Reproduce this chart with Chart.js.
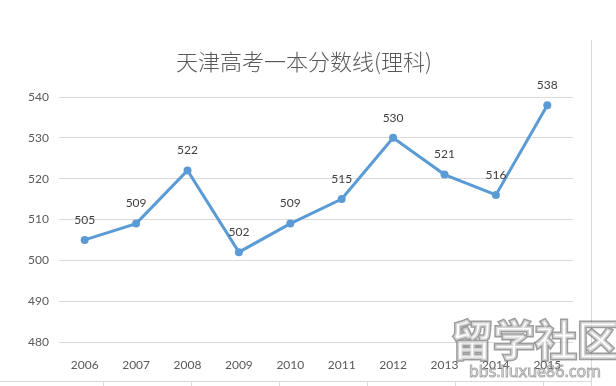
<!DOCTYPE html>
<html>
<head>
<meta charset="utf-8">
<script src="https://cdn.jsdelivr.net/npm/chart.js@4/dist/chart.umd.min.js"></script>
<style>
  html, body { margin: 0; padding: 0; background: #fff; }
  #wrap { width: 616px; height: 386px; }
</style>
</head>
<body>
<div id="wrap"><canvas id="chart" width="616" height="386"></canvas></div>
<script>
// data
const years = ['2006', '2007', '2008', '2009', '2010', '2011', '2012', '2013', '2014', '2015'];
const scores = [505, 509, 522, 502, 509, 515, 530, 521, 516, 538];
const yTicks = [480, 490, 500, 510, 520, 530, 540];

const titleText = '天津高考一本分数线(理科)';
const lineColor = '#5B9BD5';
const textColor = '#595959';

// title is not centred on the canvas in the original, so draw it here
const titlePlugin = {
    id: 'titlePlugin',
    afterDraw(chart) {
        const ctx = chart.ctx;
        ctx.save();
        ctx.font = '300 22px "Noto Sans CJK SC", sans-serif';
        ctx.fillStyle = textColor;
        ctx.textAlign = 'center';
        ctx.textBaseline = 'middle';
        ctx.fillText(titleText, 304, 62);
        ctx.restore();
    }
};

// numbers over each point
const pointLabels = {
    id: 'pointLabels',
    afterDatasetsDraw(chart) {
        const ctx = chart.ctx;
        const meta = chart.getDatasetMeta(0);
        ctx.save();
        ctx.font = '12px Lato, "Noto Sans", sans-serif';
        ctx.fillStyle = '#404040';
        ctx.textAlign = 'center';
        ctx.textBaseline = 'middle';
        meta.data.forEach((pt, i) => {
            ctx.fillText(String(scores[i]), pt.x, pt.y - 20);
        });
        ctx.restore();
    }
};

// frame line on the right + the stray axis at the bottom + watermark
const decor = {
    id: 'decor',
    afterDraw(chart) {
        const ctx = chart.ctx;
        ctx.save();
        ctx.strokeStyle = '#d9d9d9';
        ctx.lineWidth = 1;
        ctx.beginPath();
        ctx.moveTo(591.5, 40);
        ctx.lineTo(591.5, 386);
        ctx.moveTo(0, 381.5);
        ctx.lineTo(591, 381.5);
        for (let x = 103; x < 591; x += 88) {
            ctx.moveTo(x + 0.5, 381);
            ctx.lineTo(x + 0.5, 386);
        }
        ctx.stroke();

        ctx.textAlign = 'center';
        ctx.textBaseline = 'middle';
        ctx.font = 'bold 42px "Noto Sans CJK SC", sans-serif';
        ctx.lineWidth = 3;
        ctx.strokeStyle = 'rgba(90,90,90,0.6)';
        ctx.fillStyle = 'rgba(255,255,255,0.55)';
        ctx.strokeText('留学社区', 535, 340);
        ctx.fillText('留学社区', 535, 340);
        ctx.font = '16px "Noto Sans", sans-serif';
        ctx.lineWidth = 1;
        ctx.strokeStyle = 'rgba(110,110,110,0.6)';
        ctx.fillStyle = 'rgba(255,255,255,0.6)';
        ctx.fillText('bbs.liuxue86.com', 535, 372);
        ctx.strokeText('bbs.liuxue86.com', 535, 372);
        ctx.restore();
    }
};

new Chart(document.getElementById('chart').getContext('2d'), {
    type: 'line',
    data: {
        labels: years,
        datasets: [{
            label: titleText,
            data: scores,
            borderColor: lineColor,
            backgroundColor: lineColor,
            borderWidth: 3,
            pointRadius: 4,
            pointBorderWidth: 0,
            tension: 0,
            fill: false
        }]
    },
    options: {
        responsive: false,
        animation: false,
        layout: { padding: { left: 0, right: 43, top: 97, bottom: 0 } },
        plugins: {
            legend: { display: false },
            tooltip: { enabled: false },
            title: { display: false }
        },
        scales: {
            x: {
                offset: true,
                grid: { display: false },
                border: { display: false },
                ticks: {
                    color: textColor,
                    font: { family: 'Lato, "Noto Sans", sans-serif', size: 12 },
                    padding: 8,
                    maxRotation: 0
                },
                afterFit(scale) { scale.height = 44; }
            },
            y: {
                min: yTicks[0],
                max: yTicks[yTicks.length - 1],
                grid: { color: '#d9d9d9', drawTicks: false },
                border: { display: false },
                afterBuildTicks(scale) { scale.ticks = yTicks.map(v => ({ value: v })); },
                ticks: {
                    color: textColor,
                    font: { family: 'Lato, "Noto Sans", sans-serif', size: 12 },
                    padding: 10
                },
                afterFit(scale) { scale.width = 59; }
            }
        }
    },
    plugins: [titlePlugin, pointLabels, decor]
});
</script>
</body>
</html>
